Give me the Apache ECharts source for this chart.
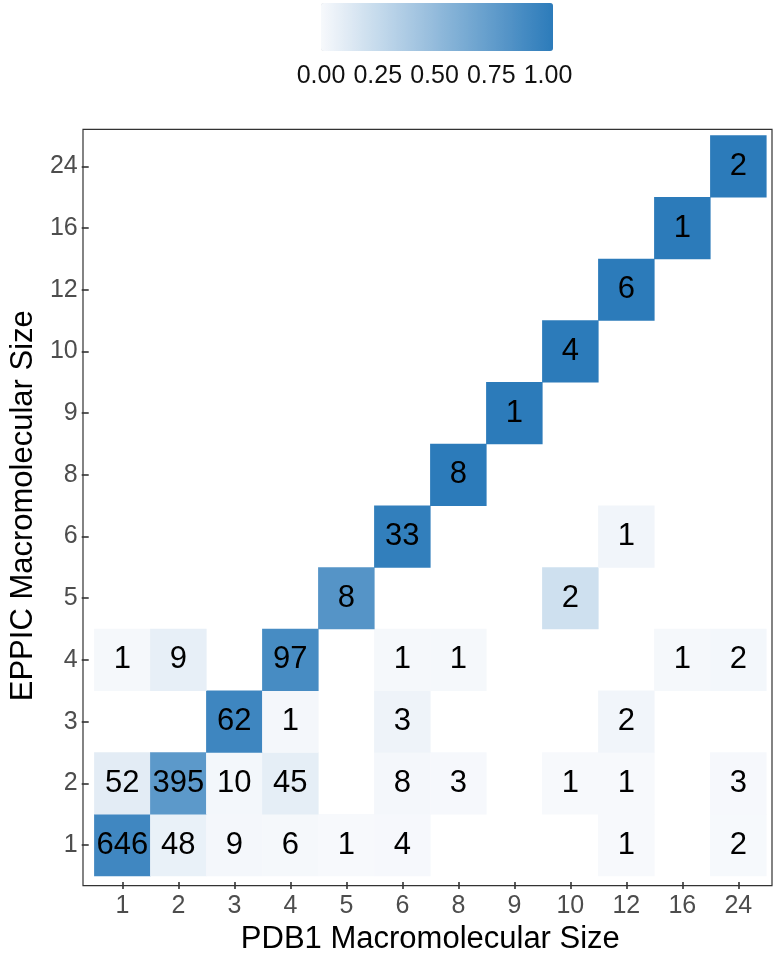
<!DOCTYPE html>
<html>
<head>
<meta charset="utf-8">
<script src="https://cdn.jsdelivr.net/npm/echarts@6/dist/echarts.min.js"></script>
<style>html,body{margin:0;padding:0;background:#fff;}#c{width:776px;height:960px;}</style>
</head>
<body>
<div id="c"></div>
<script>
// Categories (macromolecular sizes) shared by both axes
const sizes = ['1', '2', '3', '4', '5', '6', '8', '9', '10', '12', '16', '24'];
// Counts per EPPIC size (rows), across PDB1 sizes (columns); 0 = no tile
const eppic1  = [646, 48, 9, 6, 1, 4, 0, 0, 0, 1, 0, 2];
const eppic2  = [52, 395, 10, 45, 0, 8, 3, 0, 1, 1, 0, 3];
const eppic3  = [0, 0, 62, 1, 0, 3, 0, 0, 0, 2, 0, 0];
const eppic4  = [1, 9, 0, 97, 0, 1, 1, 0, 0, 0, 1, 2];
const eppic5  = [0, 0, 0, 0, 8, 0, 0, 0, 2, 0, 0, 0];
const eppic6  = [0, 0, 0, 0, 0, 33, 0, 0, 0, 1, 0, 0];
const eppic8  = [0, 0, 0, 0, 0, 0, 8, 0, 0, 0, 0, 0];
const eppic9  = [0, 0, 0, 0, 0, 0, 0, 1, 0, 0, 0, 0];
const eppic10 = [0, 0, 0, 0, 0, 0, 0, 0, 4, 0, 0, 0];
const eppic12 = [0, 0, 0, 0, 0, 0, 0, 0, 0, 6, 0, 0];
const eppic16 = [0, 0, 0, 0, 0, 0, 0, 0, 0, 0, 1, 0];
const eppic24 = [0, 0, 0, 0, 0, 0, 0, 0, 0, 0, 0, 2];
const rows = [eppic1, eppic2, eppic3, eppic4, eppic5, eppic6, eppic8, eppic9, eppic10, eppic12, eppic16, eppic24];
// Legend tick labels
const legendTicks = [0, 0.25, 0.5, 0.75, 1];

const data = [];
rows.forEach((row, yi) => {
  const total = row.reduce((a, b) => a + b, 0);
  row.forEach((cnt, xi) => {
    if (cnt > 0) data.push([xi, yi, cnt / total, cnt]);
  });
});

const FONT = '"Liberation Sans", Helvetica, Arial, sans-serif';
const chart = echarts.init(document.getElementById('c'), null, {renderer: 'canvas'});
chart.setOption({
  animation: false,
  backgroundColor: '#ffffff',
  textStyle: {fontFamily: FONT},
  grid: [
    {left: 88.6, right: 9.65, top: 135.5, bottom: 80.5},
    {left: 83, right: 4, top: 129.3, bottom: 74.3, show: true, borderColor: '#333333', borderWidth: 1.2, backgroundColor: 'transparent', z: 5},
    {left: 321, width: 227, top: 3, height: 48}
  ],
  xAxis: [
    {
      type: 'category', data: sizes, gridIndex: 0, offset: 6.2,
      name: 'PDB1 Macromolecular Size', nameLocation: 'middle', nameGap: 40,
      nameTextStyle: {fontSize: 31, color: '#000', fontFamily: FONT},
      axisLine: {show: false},
      axisTick: {show: true, alignWithLabel: true, length: 7, lineStyle: {color: '#333333', width: 1.6}},
      axisLabel: {fontSize: 25, color: '#4d4d4d', margin: 12, fontFamily: FONT},
      splitLine: {show: false}, splitArea: {show: false}
    },
    {type: 'value', gridIndex: 1, show: false, min: 0, max: 1},
    {
      type: 'value', gridIndex: 2, min: 0, max: 1, interval: 0.25, position: 'bottom',
      axisLine: {show: false}, splitLine: {show: false},
      axisTick: {show: true, inside: true, length: 10, lineStyle: {color: '#ffffff', width: 1.2}},
      axisLabel: {fontSize: 25, color: '#111', margin: 13, fontFamily: FONT, formatter: v => v.toFixed(2)},
      data: legendTicks
    },
    {
      type: 'value', gridIndex: 2, min: 0, max: 1, interval: 0.25, position: 'top',
      axisLine: {show: false}, splitLine: {show: false}, axisLabel: {show: false},
      axisTick: {show: true, inside: true, length: 10, lineStyle: {color: '#ffffff', width: 1.2}}
    }
  ],
  yAxis: [
    {
      type: 'category', data: sizes, gridIndex: 0, offset: 5.65,
      name: 'EPPIC Macromolecular Size', nameLocation: 'middle', nameGap: 46, nameRotate: 90,
      nameTextStyle: {fontSize: 31, color: '#000', fontFamily: FONT},
      axisLine: {show: false},
      axisTick: {show: true, alignWithLabel: true, length: 7, lineStyle: {color: '#333333', width: 1.6}},
      axisLabel: {fontSize: 25, color: '#4d4d4d', margin: 11, fontFamily: FONT},
      splitLine: {show: false}, splitArea: {show: false}
    },
    {type: 'value', gridIndex: 1, show: false, min: 0, max: 1},
    {type: 'value', gridIndex: 2, show: false, min: 0, max: 1}
  ],
  visualMap: {
    type: 'continuous', min: 0, max: 1, dimension: 2, seriesIndex: 0,
    orient: 'horizontal', left: 321, top: 3, padding: 0,
    itemWidth: 48, itemHeight: 232, calculable: false, text: null, showLabel: false,
    hoverLink: false,
    inRange: {color: ['#f7f9fc', '#2c7bba']}
  },
  series: [{
    type: 'heatmap', xAxisIndex: 0, yAxisIndex: 0, data: data,
    label: {show: true, formatter: p => String(p.data[3]), fontSize: 31, color: '#000', fontFamily: FONT},
    itemStyle: {borderWidth: 0},
    emphasis: {disabled: true}
  }]
});
</script>
</body>
</html>
